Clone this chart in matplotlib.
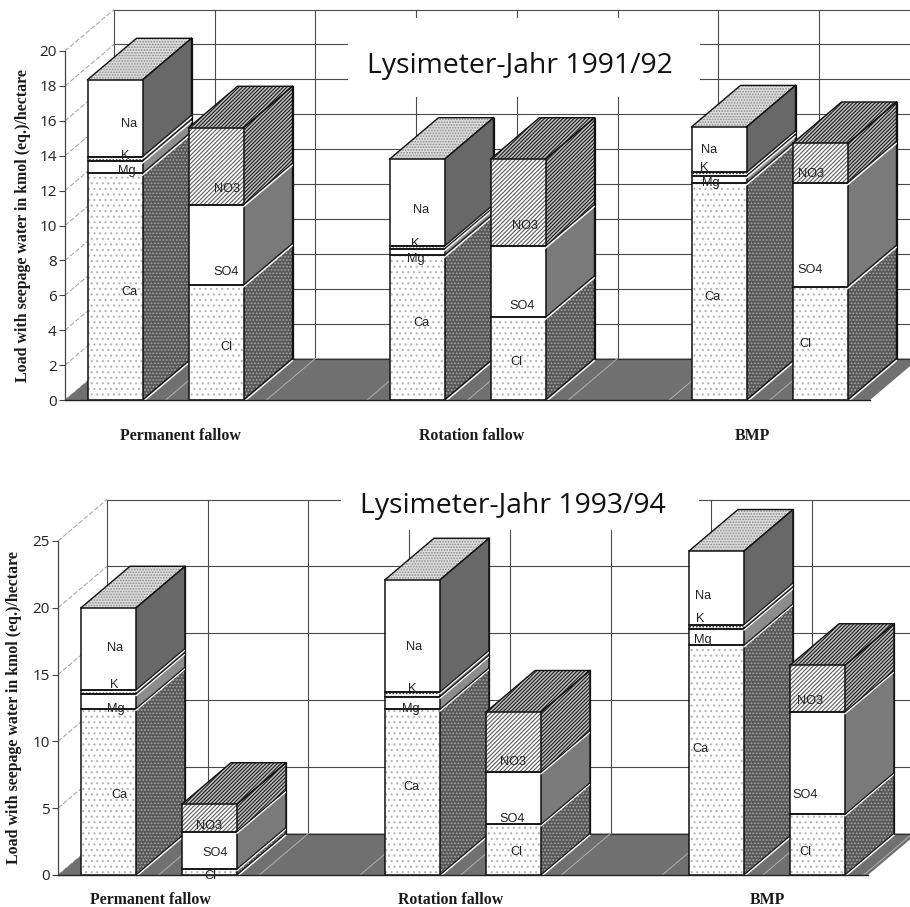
import matplotlib
matplotlib.use('Agg')
import matplotlib.pyplot as plt
from matplotlib.patches import Polygon, Rectangle

W, H = 910, 907

categories = ['Permanent fallow', 'Rotation fallow', 'BMP']

# kmol (eq.)/hectare, 1991/92
ca_9192 = [13.0, 8.3, 12.45]
mg_9192 = [0.7, 0.37, 0.4]
k_9192 = [0.25, 0.16, 0.2]
na_9192 = [4.4, 4.97, 2.6]
cl_9192 = [6.6, 4.75, 6.5]
so4_9192 = [4.6, 4.08, 5.95]
no3_9192 = [4.4, 4.97, 2.25]

# 1993/94
ca_9394 = [12.45, 12.4, 17.2]
mg_9394 = [1.1, 0.95, 1.25]
k_9394 = [0.3, 0.35, 0.3]
na_9394 = [6.15, 8.4, 5.5]
cl_9394 = [0.45, 3.8, 4.55]
so4_9394 = [2.8, 3.9, 7.65]
no3_9394 = [2.05, 4.5, 3.5]

ticks_9192 = list(range(0, 21, 2))
ticks_9394 = list(range(0, 26, 5))

seg_names = ['Ca', 'Mg', 'K', 'Na', 'Cl', 'SO4', 'NO3']

# text placement in pixels, one (x, y) per bar segment in seg_names order
labels_9192 = [
    [(129, 292), (127, 171), (125, 156), (129, 124), (226, 347), (226, 272), (227, 189)],
    [(421, 323), (416, 259), (415, 244), (421, 210), (516, 362), (522, 306), (525, 226)],
    [(712, 297), (711, 183), (704, 168), (709, 150), (805, 344), (810, 270), (811, 174)],
]
labels_9394 = [
    [(119, 795), (116, 709), (114, 685), (115, 648), (210, 876), (215, 853), (209, 826)],
    [(411, 787), (411, 709), (412, 689), (414, 647), (516, 852), (512, 819), (513, 762)],
    [(700, 749), (703, 640), (700, 619), (703, 596), (805, 852), (805, 795), (810, 701)],
]

plt.rcParams['hatch.linewidth'] = 0.8

dot_front = dict(face='white', hc='#b4b4b4', hatch='...')
dot_side = dict(face='#585858', hc='#a8a8a8', hatch='.....')
plain = dict(face='white', hc='white', hatch=None)
stripe = dict(face='white', hc='#5c5c5c', hatch='/' * 8)
stripe_dark = dict(face='#c0c0c0', hc='#1a1a1a', hatch='/' * 9)
stipple_top = dict(face='#dcdcdc', hc='#8a8a8a', hatch='......')


def flat(c):
    return dict(face=c, hc=c, hatch=None)


left_styles = [(dot_front, dot_side),
               (plain, flat('#8c8c8c')),
               (dict(face='white', hc='#222222', hatch='.....'), flat('#707070')),
               (plain, flat('#686868'))]
right_styles = [(dot_front, dot_side),
                (plain, flat('#7a7a7a')),
                (stripe, stripe_dark)]


def px_box(fig_ax, x0, y0, x1, y1, conv):
    ax_x0, ax_y0 = conv(x0, y1)
    ax_x1, ax_y1 = conv(x1, y0)
    fig_ax.add_patch(Rectangle((ax_x0, ax_y0), ax_x1 - ax_x0, ax_y1 - ax_y0,
                               facecolor='white', edgecolor='none', zorder=5))


def draw_stack(ax, pos, heights, styles, top_style, w, dx, dy, z):
    left, right = pos - w / 2, pos + w / 2
    y0 = 0
    for h, (front, side) in zip(heights, styles):
        y1 = y0 + h
        ax.add_patch(Polygon([(right, y0), (right + dx, y0 + dy), (right + dx, y1 + dy), (right, y1)],
                             facecolor=side['face'], edgecolor=side['hc'], hatch=side['hatch'],
                             linewidth=0, zorder=z))
        ax.bar(pos, h, w, bottom=y0, color=front['face'], edgecolor=front['hc'],
               hatch=front['hatch'], linewidth=0, zorder=z + 0.1)
        ax.bar(pos, h, w, bottom=y0, fill=False, edgecolor='#111111', linewidth=1.1, zorder=z + 0.2)
        # white highlight under each edge on the side
        ax.plot([right, right + dx], [y0 - 0.12, y0 + dy - 0.12], color='white', lw=1.0, zorder=z + 0.2)
        ax.plot([right, right + dx], [y1, y1 + dy], color='#111111', lw=0.8, zorder=z + 0.3)
        y0 = y1
    ax.add_patch(Polygon([(left, y0), (left + dx, y0 + dy), (right + dx, y0 + dy), (right, y0)],
                         facecolor=top_style['face'], edgecolor=top_style['hc'], hatch=top_style['hatch'],
                         linewidth=0, zorder=z))
    ax.plot([left, left + dx, right + dx, right + dx, right],
            [y0, y0 + dy, y0 + dy, dy, 0], color='#111111', lw=1.0, zorder=z + 0.05)
    ax.plot([right, right + dx], [y0, y0 + dy], color='#111111', lw=1.0, zorder=z + 0.3)
    ax.plot([right + dx, right + dx], [dy, y0 + dy], color='#111111', lw=0.9, zorder=z + 0.3)


def draw_panel(cations, anions, yticks, ppu, axis_x, zero_y, c0, spacing, floor_end, xlabel_px, xpad,
               wall_step, box, title, title_xy, labels, ylabel_x):
    top_y = zero_y - ppu * (yticks[-1] + 42 / ppu) - 9
    ax = fig.add_axes([axis_x / W, 1 - zero_y / H, (W - axis_x) / W, (zero_y - top_y) / H])
    ax.set_xlim((axis_x - c0) / spacing, (W - c0) / spacing)
    ax.set_ylim(0, (zero_y - top_y) / ppu)
    ax.patch.set_alpha(0)

    def conv(px, py):
        return (px - c0) / spacing, (zero_y - py) / ppu

    w = 55 / spacing
    off = 50.5 / spacing
    dx = 49 / spacing
    dy = 41.5 / ppu
    xl = ax.get_xlim()[0]

    # back wall
    wall_top = yticks[-1] + dy
    for t in yticks:
        ax.plot([xl + dx, ax.get_xlim()[1]], [t + dy, t + dy], color='#4a4a4a', lw=0.8, zorder=1)
        ax.plot([xl, xl + dx], [t, t + dy], color='#a0a0a0', lw=0.7, ls=(0, (5, 2)), zorder=1)
    for k in range(8):
        xv = xl + dx + k * wall_step / spacing
        ax.plot([xv, xv], [dy, wall_top], color='#4a4a4a', lw=0.8, zorder=1)

    # floor
    xf = conv(floor_end, zero_y)[0]
    ax.add_patch(Polygon([(xl, 0), (xl + dx, dy), (xf + dx, dy), (xf, 0)],
                         facecolor='#707070', edgecolor='none', zorder=2))
    ax.plot([xl + dx, xf + dx], [dy, dy], color='#333333', lw=0.9, zorder=2)
    for k in range(1, 9):
        xv = xl + k * wall_step / spacing
        if xv < xf:
            ax.plot([xv, xv + dx], [0, dy], color='#b0b0b0', lw=0.7, zorder=2.5)

    px_box(ax, *box, conv)

    # bars, left to right so each one covers the side of the previous one
    z = 10
    for i in range(len(categories)):
        draw_stack(ax, i - off, [s[i] for s in cations], left_styles, stipple_top, w, dx, dy, z)
        draw_stack(ax, i + off, [s[i] for s in anions], right_styles, stripe_dark, w, dx, dy, z + 1)
        z += 2

    for s in ['top', 'right']:
        ax.spines[s].set_visible(False)
    ax.spines['left'].set_bounds(0, yticks[-1])
    ax.spines['left'].set_color('#444444')
    ax.spines['left'].set_linewidth(0.9)
    ax.spines['bottom'].set_bounds(xl, xf)
    ax.spines['bottom'].set_color('#222222')
    ax.spines['bottom'].set_linewidth(1.0)
    ax.spines['bottom'].set_zorder(30)
    ax.set_yticks(yticks)
    ax.tick_params(axis='y', length=4, width=0.8, color='#444444', labelsize=11, labelcolor='#222222', pad=2)
    for lab in ax.get_yticklabels():
        lab.set_fontfamily('Open Sans')
    ax.set_xticks([(p - c0) / spacing for p in xlabel_px])
    ax.set_xticklabels(categories, family='Liberation Serif', fontweight='bold', fontsize=11.4, color='#1a1a1a')
    ax.tick_params(axis='x', length=0, pad=xpad)

    fig.text(ylabel_x / W, 1 - (zero_y - ppu * yticks[-1] * 0.5) / H, 'Load with seepage water in kmol (eq.)/hectare',
             rotation=90, ha='center', va='center', family='Liberation Serif', fontweight='bold',
             fontsize=11.4, color='#1a1a1a')
    fig.text(title_xy[0] / W, 1 - title_xy[1] / H, title, ha='center', va='center',
             family='Open Sans', fontsize=20.4, color='#111111')
    for group in labels:
        for name, (px, py) in zip(seg_names, group):
            fig.text(px / W, 1 - py / H, name, ha='center', va='center', family='Liberation Sans',
                     fontsize=9.2, color='#222222', zorder=40)


fig = plt.figure(figsize=(W / 100, H / 100), dpi=100, facecolor='white')

draw_panel([ca_9192, mg_9192, k_9192, na_9192], [cl_9192, so4_9192, no3_9192], ticks_9192,
           17.45, 65, 400, 165.5, 302, 870, [180, 472, 752], 20, 100.7,
           (348, 18, 700, 97), 'Lysimeter-Jahr 1991/92', (520, 66), labels_9192, 23)

draw_panel([ca_9394, mg_9394, k_9394, na_9394], [cl_9394, so4_9394, no3_9394], ticks_9394,
           13.36, 58, 875, 159, 304, 868, [150, 451, 767], 12, 100.7,
           (341, 480, 699, 530), 'Lysimeter-Jahr 1993/94', (513, 506), labels_9394, 14)

fig.savefig('out.png', dpi=100)
